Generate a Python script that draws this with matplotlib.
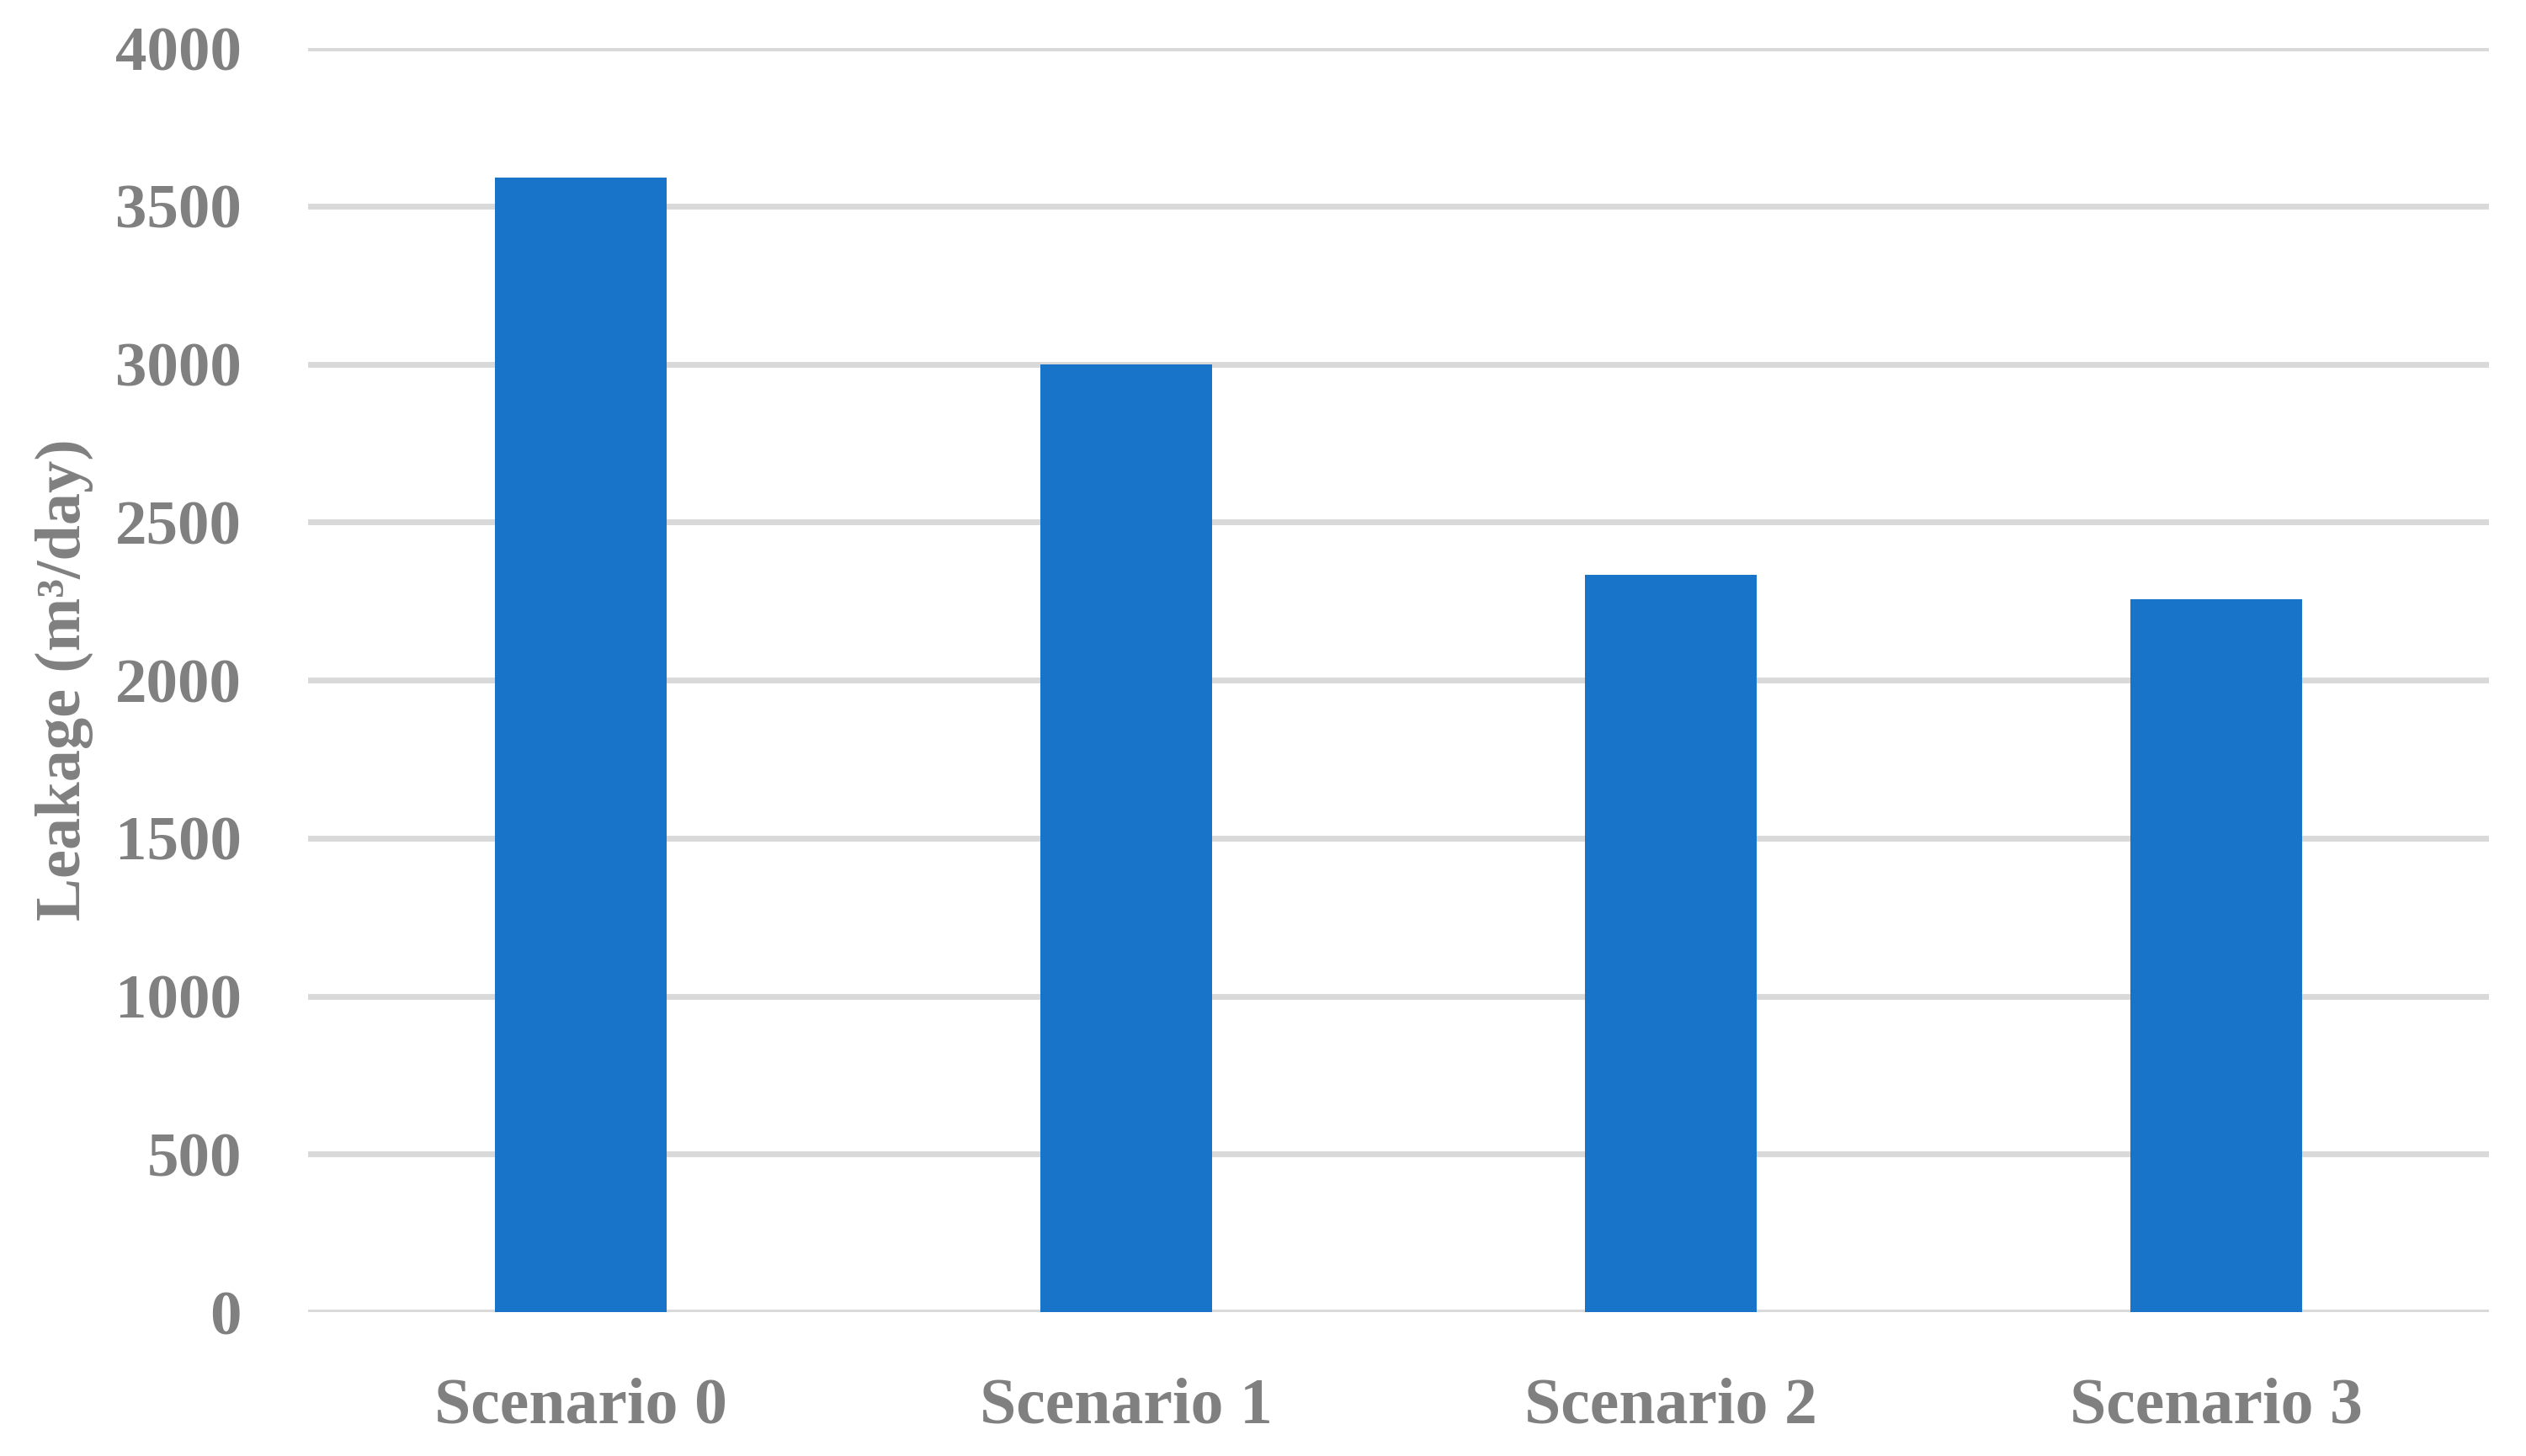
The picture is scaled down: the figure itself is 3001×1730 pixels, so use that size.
import matplotlib
matplotlib.use("Agg")
import matplotlib.pyplot as plt

categories = ["Scenario 0", "Scenario 1", "Scenario 2", "Scenario 3"]
leakage = [3590, 2998, 2332, 2255]
yticks = [0, 500, 1000, 1500, 2000, 2500, 3000, 3500, 4000]

plt.rcParams['font.family'] = ['Liberation Serif', 'DejaVu Serif']
grey = '#808080'

fig = plt.figure(figsize=(30.01, 17.30), dpi=100)
ax = fig.add_axes([0.122, 0.0988, 0.8633, 0.8682])

x = list(range(len(categories)))
ax.bar(x, leakage, width=0.315, color='#1874C8', zorder=3)

ax.set_xlim(-0.5, len(categories) - 0.5)
ax.set_ylim(0, 4000)
ax.set_yticks(yticks)
ax.set_yticklabels([str(t) for t in yticks])
ax.set_xticks(x)
ax.set_xticklabels(categories)

ax.yaxis.grid(True, color='#D9D9D9', linewidth=5, zorder=0)
ax.set_axisbelow(True)
for s in ax.spines.values():
    s.set_visible(False)

ax.tick_params(axis='y', length=0, pad=57, labelsize=54, labelcolor=grey)
ax.tick_params(axis='x', length=0, pad=56, labelsize=56, labelcolor=grey)
for lab in ax.get_xticklabels() + ax.get_yticklabels():
    lab.set_fontweight('bold')

ax.set_ylabel('Leakage (m\u00b3/day)', fontsize=55, fontweight='bold', color=grey, labelpad=19)

fig.savefig('out.png', dpi=100)
